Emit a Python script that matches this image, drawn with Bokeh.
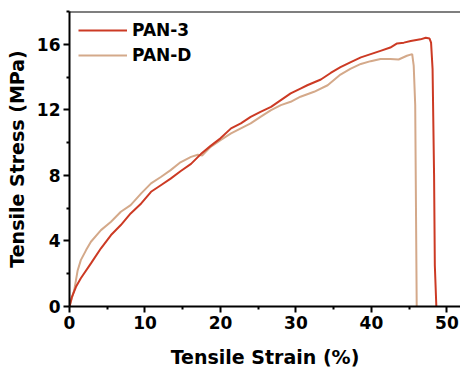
from bokeh.plotting import figure
from bokeh.models import FixedTicker, Span, Range1d
from bokeh.embed import file_html
from bokeh.resources import INLINE

# PAN-3 data
strain_pan3 = [0, 0.3, 0.86, 1.5, 2.84, 4.17, 5.5, 6.8, 8.1, 9.5, 10.8, 12.1, 13.4, 14.7,
               16.1, 17.4, 18.7, 20.0, 21.4, 22.7, 24.0, 25.3, 26.7, 28.0, 29.3, 30.6,
               31.5, 33.3, 34.6, 35.9, 37.2, 38.6, 39.9, 41.2, 42.5, 43.4, 44.3, 45.2,
               46.5, 47.2, 47.7, 47.9, 48.1, 48.3, 48.4, 48.6]
stress_pan3 = [0, 0.55, 1.2, 1.72, 2.63, 3.55, 4.36, 4.97, 5.68, 6.29, 7.0, 7.4, 7.8, 8.25,
               8.7, 9.3, 9.8, 10.26, 10.87, 11.17, 11.57, 11.88, 12.18, 12.59, 13.0, 13.3,
               13.5, 13.85, 14.25, 14.6, 14.9, 15.2, 15.4, 15.6, 15.8, 16.05, 16.1, 16.2,
               16.3, 16.4, 16.35, 16.1, 14.5, 8.0, 2.5, 0]

# PAN-D data
strain_pand = [0, 0.3, 0.63, 1.08, 1.5, 2.2, 2.84, 4.17, 5.5, 6.8, 8.1, 9.5, 10.8, 12.1,
               13.4, 14.7, 16.1, 17.0, 17.6, 18.7, 20.0, 21.4, 22.7, 24.0, 25.3, 26.7,
               28.0, 29.3, 30.6, 32.4, 34.2, 35.9, 37.2, 38.6, 39.9, 41.2, 42.5, 43.6,
               44.7, 45.4, 45.6, 45.8, 46.0]
stress_pand = [0, 0.5, 1.0, 2.2, 2.83, 3.44, 3.95, 4.66, 5.17, 5.78, 6.19, 6.9, 7.51, 7.9,
               8.32, 8.8, 9.13, 9.26, 9.22, 9.74, 10.15, 10.56, 10.87, 11.17, 11.57, 11.98,
               12.29, 12.49, 12.8, 13.1, 13.5, 14.15, 14.5, 14.8, 14.97, 15.1, 15.1, 15.07,
               15.3, 15.4, 14.7, 12.3, 0]

x_ticks = [0, 10, 20, 30, 40, 50]
x_minor = [5, 15, 25, 35, 45]
y_ticks = [0, 4, 8, 12, 16]
y_minor = [2, 6, 10, 14, 18]

FONT = "DejaVu Sans"

p = figure(width=460, height=374, output_backend="svg", toolbar_location=None,
           x_range=Range1d(0, 51.8), y_range=Range1d(0, 18),
           min_border_left=69, min_border_right=0, min_border_top=11, min_border_bottom=68)
p.outline_line_color = None
p.xgrid.visible = False
p.ygrid.visible = False

p.line(strain_pand, stress_pand, line_color="#D4A98A", line_width=2, legend_label="PAN-D")
p.line(strain_pan3, stress_pan3, line_color="#CC3A24", line_width=2, legend_label="PAN-3")

p.add_layout(Span(location=18, dimension="width", line_color="black", line_width=2))

p.xaxis.ticker = FixedTicker(ticks=x_ticks, minor_ticks=x_minor)
p.yaxis.ticker = FixedTicker(ticks=y_ticks, minor_ticks=y_minor)
p.xaxis.axis_label = "Tensile Strain (%)"
p.yaxis.axis_label = "Tensile Stress (MPa)"

for ax in (p.xaxis[0], p.yaxis[0]):
    ax.axis_line_width = 2
    ax.axis_line_color = "black"
    ax.major_tick_line_width = 2
    ax.minor_tick_line_width = 2
    ax.major_tick_line_color = "black"
    ax.minor_tick_line_color = "black"
    ax.major_tick_out = 6
    ax.major_tick_in = 0
    ax.minor_tick_out = 3
    ax.minor_tick_in = 0
    ax.major_label_text_font = FONT
    ax.major_label_text_font_style = "bold"
    ax.major_label_text_font_size = "17px"
    ax.major_label_text_color = "black"
    ax.major_label_standoff = 3
    ax.axis_label_text_font = FONT
    ax.axis_label_text_font_style = "bold"
    ax.axis_label_text_font_size = "19px"
    ax.axis_label_text_color = "black"

p.xaxis.axis_label_standoff = 14
p.yaxis.axis_label_standoff = 6

lg = p.legend[0]
lg.location = "top_left"
lg.margin = 9
lg.padding = 0
lg.spacing = 5
lg.glyph_width = 49
lg.glyph_height = 20
lg.label_height = 20
lg.label_standoff = 5
lg.border_line_color = None
lg.background_fill_alpha = 0
lg.label_text_font = FONT
lg.label_text_font_style = "bold"
lg.label_text_font_size = "17px"
lg.label_text_color = "black"
# order: PAN-3 first
lg.items = [lg.items[1], lg.items[0]]

open("out.html", "w").write(file_html(p, INLINE))
